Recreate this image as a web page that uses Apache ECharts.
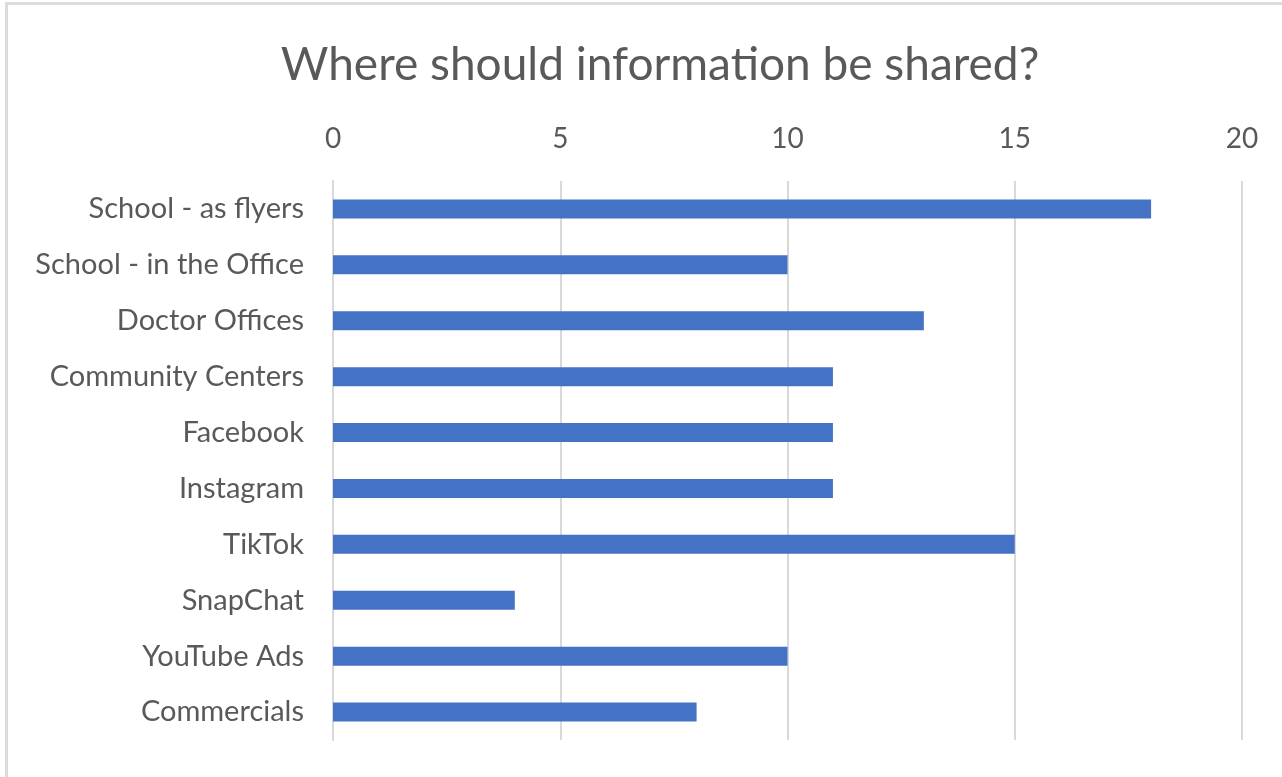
<!DOCTYPE html>
<html><head><meta charset="utf-8">
<script src="https://cdn.jsdelivr.net/npm/echarts@6/dist/echarts.min.js"></script>
<style>
html,body{margin:0;padding:0;background:#fff;}
#frame{position:absolute;left:0;top:0;width:1282px;height:777px;}
#border{position:absolute;left:5px;top:2px;width:1290px;height:800px;border-left:3px solid #dcdcdc;border-top:3px solid #dcdcdc;box-sizing:border-box;pointer-events:none;}
#chart{position:absolute;left:0;top:0;width:1282px;height:777px;}
</style></head>
<body>
<div id="frame"><div id="chart"></div><div id="border"></div></div>
<script>
const categories = ["School - as flyers","School - in the Office","Doctor Offices","Community Centers","Facebook","Instagram","TikTok","SnapChat","YouTube Ads","Commercials"];
const values = [18,10,13,11,11,11,15,4,10,8];
const titleText = "Where should information be shared?";
const fontFam = "Lato, 'Open Sans', sans-serif";
const chart = echarts.init(document.getElementById('chart'));
chart.setOption({
  animation:false,
  backgroundColor:'#fff',
  title:{text:titleText,left:655,top:37,textAlign:'center',
    textStyle:{fontFamily:fontFam,fontSize:46,fontWeight:'normal',color:'#595959'}},
  grid:{left:333,right:40,top:181,bottom:37},
  xAxis:{type:'value',position:'top',min:0,max:20,interval:5,
    axisLine:{show:false},axisTick:{show:false},
    axisLabel:{color:'#595959',fontFamily:fontFam,fontSize:28,margin:28},
    splitLine:{lineStyle:{color:'#d9d9d9',width:2}}},
  yAxis:{type:'category',data:categories,inverse:true,
    axisLine:{show:true,lineStyle:{color:'#d9d9d9',width:2}},axisTick:{show:false},
    axisLabel:{color:'#595959',fontFamily:fontFam,fontSize:29,margin:29}},
  series:[{type:'bar',data:values,barWidth:19,itemStyle:{color:'#4472C4'}}]
});
</script>
</body></html>
